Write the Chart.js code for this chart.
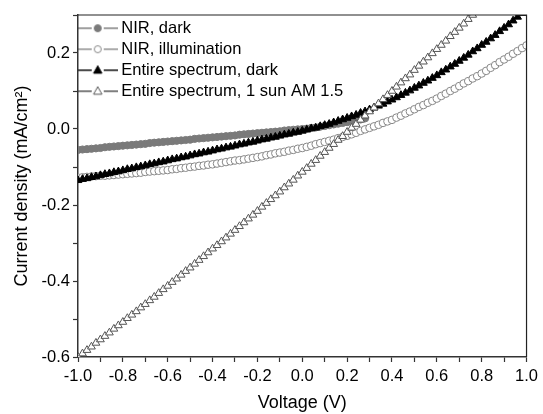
<!DOCTYPE html>
<html>
<head>
<meta charset="utf-8">
<script src="https://cdn.jsdelivr.net/npm/chart.js@4.4.1/dist/chart.umd.min.js"></script>
<style>
  html, body { margin: 0; padding: 0; background: #fff; }
  canvas { display: block; }
</style>
</head>
<body>
<canvas id="myChart" width="543" height="414"></canvas>
<script>
// Voltage sweep (V)
const voltage = [
  -1.00, -0.98, -0.96, -0.94, -0.92, -0.90, -0.88, -0.86, -0.84, -0.82,
  -0.80, -0.78, -0.76, -0.74, -0.72, -0.70, -0.68, -0.66, -0.64, -0.62,
  -0.60, -0.58, -0.56, -0.54, -0.52, -0.50, -0.48, -0.46, -0.44, -0.42,
  -0.40, -0.38, -0.36, -0.34, -0.32, -0.30, -0.28, -0.26, -0.24, -0.22,
  -0.20, -0.18, -0.16, -0.14, -0.12, -0.10, -0.08, -0.06, -0.04, -0.02,
  0.00, 0.02, 0.04, 0.06, 0.08, 0.10, 0.12, 0.14, 0.16, 0.18,
  0.20, 0.22, 0.24, 0.26, 0.28, 0.30, 0.32, 0.34, 0.36, 0.38,
  0.40, 0.42, 0.44, 0.46, 0.48, 0.50, 0.52, 0.54, 0.56, 0.58,
  0.60, 0.62, 0.64, 0.66, 0.68, 0.70, 0.72, 0.74, 0.76, 0.78,
  0.80, 0.82, 0.84, 0.86, 0.88, 0.90, 0.92, 0.94, 0.96, 0.98,
  1.00
];

// Current density (mA/cm2)
const nirDark = [
  -0.055, -0.054, -0.053, -0.052, -0.051, -0.050, -0.048, -0.047, -0.046, -0.045,
  -0.044, -0.043, -0.042, -0.041, -0.040, -0.039, -0.037, -0.036, -0.035, -0.034,
  -0.033, -0.032, -0.031, -0.030, -0.029, -0.028, -0.026, -0.025, -0.024, -0.023,
  -0.022, -0.021, -0.020, -0.019, -0.018, -0.017, -0.015, -0.014, -0.013, -0.012,
  -0.011, -0.010, -0.009, -0.008, -0.007, -0.006, -0.004, -0.003, -0.002, -0.001,
  0.000, 0.001, 0.003, 0.004, 0.006, 0.008, 0.010, 0.012, 0.014, 0.016,
  0.018, 0.020, 0.022, 0.025, 0.028
];
const nirIllum = [
  -0.128, -0.127, -0.126, -0.125, -0.124, -0.123, -0.123, -0.122, -0.121, -0.120,
  -0.119, -0.118, -0.117, -0.116, -0.115, -0.113, -0.112, -0.111, -0.110, -0.109,
  -0.108, -0.106, -0.105, -0.103, -0.102, -0.100, -0.099, -0.097, -0.096, -0.094,
  -0.093, -0.091, -0.089, -0.087, -0.085, -0.083, -0.082, -0.080, -0.078, -0.076,
  -0.074, -0.072, -0.069, -0.067, -0.064, -0.062, -0.060, -0.057, -0.055, -0.052,
  -0.050, -0.047, -0.044, -0.040, -0.037, -0.034, -0.031, -0.028, -0.024, -0.021,
  -0.018, -0.014, -0.010, -0.005, -0.001, 0.003, 0.007, 0.011, 0.016, 0.020,
  0.024, 0.030, 0.035, 0.041, 0.046, 0.052, 0.058, 0.063, 0.069, 0.074,
  0.080, 0.087, 0.093, 0.100, 0.106, 0.113, 0.120, 0.126, 0.133, 0.139,
  0.146, 0.153, 0.161, 0.168, 0.176, 0.183, 0.190, 0.198, 0.205, 0.213,
  0.220
];
const fullDark = [
  -0.135, -0.132, -0.130, -0.127, -0.125, -0.122, -0.119, -0.117, -0.114, -0.112,
  -0.109, -0.106, -0.104, -0.101, -0.099, -0.096, -0.093, -0.091, -0.088, -0.086,
  -0.083, -0.080, -0.078, -0.075, -0.073, -0.070, -0.067, -0.065, -0.062, -0.060,
  -0.057, -0.054, -0.052, -0.049, -0.047, -0.044, -0.041, -0.039, -0.036, -0.034,
  -0.031, -0.028, -0.026, -0.023, -0.021, -0.018, -0.015, -0.013, -0.010, -0.008,
  -0.005, -0.002, 0.001, 0.003, 0.007, 0.010, 0.013, 0.017, 0.021, 0.025,
  0.029, 0.033, 0.037, 0.042, 0.046, 0.051, 0.056, 0.061, 0.066, 0.072,
  0.077, 0.083, 0.089, 0.095, 0.101, 0.108, 0.114, 0.121, 0.127, 0.134,
  0.141, 0.149, 0.156, 0.164, 0.171, 0.179, 0.187, 0.195, 0.204, 0.212,
  0.221, 0.229, 0.238, 0.247, 0.257, 0.266, 0.275, 0.285, 0.295, 0.305,
  0.315
];
const fullSun = [
  -0.600, -0.591, -0.582, -0.573, -0.563, -0.554, -0.545, -0.536, -0.526, -0.517,
  -0.508, -0.498, -0.489, -0.480, -0.470, -0.461, -0.451, -0.442, -0.432, -0.422,
  -0.413, -0.403, -0.394, -0.384, -0.374, -0.365, -0.355, -0.345, -0.335, -0.325,
  -0.315, -0.306, -0.296, -0.286, -0.276, -0.266, -0.256, -0.246, -0.236, -0.226,
  -0.216, -0.205, -0.195, -0.185, -0.175, -0.165, -0.154, -0.144, -0.134, -0.123,
  -0.113, -0.103, -0.092, -0.082, -0.071, -0.061, -0.050, -0.040, -0.029, -0.019,
  -0.008, 0.003, 0.013, 0.024, 0.035, 0.046, 0.056, 0.067, 0.078, 0.089,
  0.100, 0.111, 0.122, 0.133, 0.143, 0.155, 0.166, 0.177, 0.188, 0.199,
  0.210, 0.221, 0.232, 0.244, 0.255, 0.266, 0.277, 0.289, 0.300, 0.311,
  0.323
];

const seriesNames = ['NIR, dark', 'NIR, illumination', 'Entire spectrum, dark', 'Entire spectrum, 1 sun AM 1.5'];

const FONT = 'Liberation Sans, Arial, sans-serif';
Chart.defaults.font.family = FONT;
Chart.defaults.color = '#000';

function toPoints(values) {
  return values.map((v, i) => ({ x: voltage[i], y: v }));
}

// little "-o-" picture for the legend
function legendIcon(shape, lineColor, fill, stroke) {
  const c = document.createElement('canvas');
  c.width = 40;
  c.height = 12;
  const g = c.getContext('2d');
  g.strokeStyle = lineColor;
  g.lineWidth = 1.5;
  g.beginPath();
  g.moveTo(0, 6); g.lineTo(14, 6);
  g.moveTo(26, 6); g.lineTo(40, 6);
  g.stroke();
  g.fillStyle = fill;
  g.strokeStyle = stroke;
  g.lineWidth = 1;
  g.beginPath();
  if (shape === 'circle') {
    g.arc(20, 6, 3.5, 0, Math.PI * 2);
  } else {
    g.moveTo(20, 1.5); g.lineTo(24.2, 9); g.lineTo(15.8, 9); g.closePath();
  }
  g.fill();
  g.stroke();
  return c;
}

const icons = [
  legendIcon('circle', '#808080', '#7a7a7a', '#7a7a7a'),
  legendIcon('circle', '#909090', '#fff', '#888'),
  legendIcon('triangle', '#111', '#000', '#000'),
  legendIcon('triangle', '#555', '#fff', '#555')
];

const tickLabel = (v) => {
  const r = Math.round(v * 10);
  return r % 2 === 0 ? (r / 10).toFixed(1) : '';
};

// top and right edges of the frame
const framePlugin = {
  id: 'frame',
  afterDatasetsDraw(chart) {
    const { ctx, chartArea: a } = chart;
    ctx.save();
    ctx.strokeStyle = '#222';
    ctx.lineWidth = 1.2;
    ctx.beginPath();
    ctx.moveTo(a.left, a.top);
    ctx.lineTo(a.right, a.top);
    ctx.lineTo(a.right, a.bottom);
    ctx.stroke();
    ctx.restore();
  }
};

const ctx = document.getElementById('myChart').getContext('2d');
const myChart = new Chart(ctx, {
  type: 'scatter',
  data: {
    datasets: [{
      label: seriesNames[0],
      data: toPoints(nirDark),
      pointStyle: 'circle',
      pointRadius: 3.6,
      pointBackgroundColor: '#7a7a7a',
      pointBorderColor: '#7a7a7a',
      pointBorderWidth: 1,
      order: 4
    }, {
      label: seriesNames[1],
      data: toPoints(nirIllum),
      pointStyle: 'circle',
      pointRadius: 3.8,
      pointBackgroundColor: '#fff',
      pointBorderColor: '#888',
      pointBorderWidth: 1,
      order: 3
    }, {
      label: seriesNames[2],
      data: toPoints(fullDark),
      pointStyle: 'triangle',
      pointRadius: 4.5,
      pointBackgroundColor: '#000',
      pointBorderColor: '#000',
      pointBorderWidth: 1,
      order: 2
    }, {
      label: seriesNames[3],
      data: toPoints(fullSun),
      pointStyle: 'triangle',
      pointRadius: 4.5,
      pointBackgroundColor: '#fff',
      pointBorderColor: '#555',
      pointBorderWidth: 1,
      order: 1
    }]
  },
  options: {
    responsive: false,
    animation: false,
    layout: { padding: { top: 15, right: 14, left: 0, bottom: 0 } },
    plugins: {
      tooltip: { enabled: false },
      legend: {
        position: 'chartArea',
        align: 'start',
        title: { display: true, text: '', font: { size: 1 }, padding: { top: 0, bottom: 14.3 } },
        labels: {
          usePointStyle: true,
          pointStyleWidth: 30.5,
          boxHeight: 12,
          padding: 4.5,
          color: '#000',
          font: { family: FONT, size: 16.5 },
          generateLabels: (chart) => chart.data.datasets.map((ds, i) => ({
            text: ds.label,
            pointStyle: icons[i],
            datasetIndex: i,
            fillStyle: '#fff',
            strokeStyle: '#fff',
            lineWidth: 0,
            hidden: false
          }))
        }
      }
    },
    scales: {
      x: {
        type: 'linear',
        position: 'bottom',
        min: -1,
        max: 1,
        afterFit: (s) => { s.height = 57; },
        border: { display: true, color: '#333', width: 1.5 },
        grid: { drawOnChartArea: false, drawTicks: true, tickLength: 5, tickColor: '#333', tickWidth: 1.2 },
        ticks: { stepSize: 0.1, autoSkip: false, maxRotation: 0, padding: 5, color: '#000', font: { size: 16.5 }, callback: tickLabel },
        title: { display: true, text: 'Voltage (V)', color: '#000', font: { size: 18 }, padding: { top: 0, bottom: 0 } }
      },
      y: {
        type: 'linear',
        min: -0.6,
        max: 0.3,
        afterFit: (s) => { s.width = 78; },
        border: { display: true, color: '#333', width: 1.5 },
        grid: { drawOnChartArea: false, drawTicks: true, tickLength: 5, tickColor: '#333', tickWidth: 1.2 },
        ticks: { stepSize: 0.1, autoSkip: false, padding: 3, color: '#000', font: { size: 16.5 }, callback: tickLabel },
        title: { display: true, text: 'Current density (mA/cm²)', color: '#000', font: { size: 18 }, padding: { top: 11, bottom: 0 } }
      }
    }
  },
  plugins: [framePlugin]
});
</script>
</body>
</html>
